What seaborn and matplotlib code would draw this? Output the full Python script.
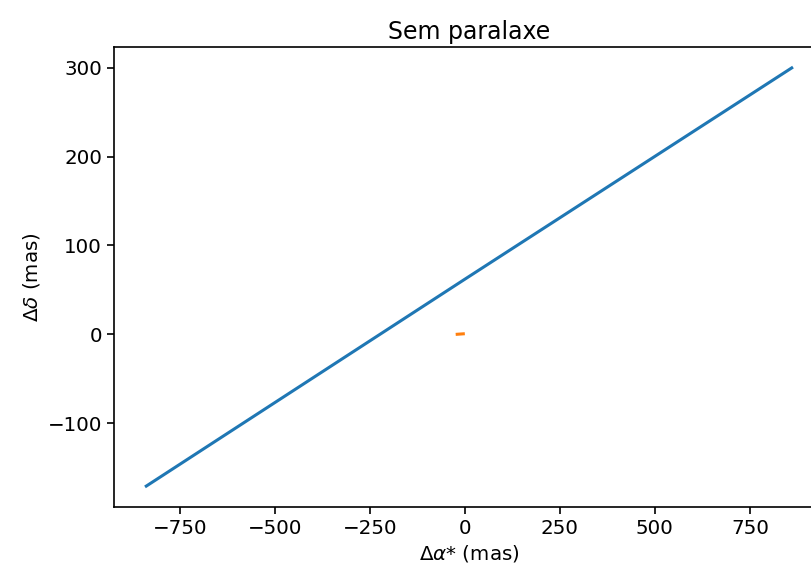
import numpy as np
import pandas as pd
import seaborn as sns
import matplotlib
matplotlib.use("Agg")
import matplotlib.pyplot as plt

# trajectory without parallax (mas)
dra_track = [-838, 0, 860]
ddec_track = [-171, 62, 300]

# small offset segment near origin
dra_par = [-20, -4]
ddec_par = [0, 0.5]

plt.rcParams["font.size"] = 14.3

fig = plt.figure(figsize=(8.11, 5.69), dpi=100)
ax = fig.add_axes([114 / 811, 62 / 569, 710 / 811, 460 / 569])

track = pd.DataFrame({"ra": dra_track, "dec": ddec_track})
par = pd.DataFrame({"ra": dra_par, "dec": ddec_par})

sns.lineplot(data=track, x="ra", y="dec", sort=False, color="C0", lw=2.2, ax=ax)
sns.lineplot(data=par, x="ra", y="dec", sort=False, color="C1", lw=2.2, ax=ax)

ax.set_xticks([-750, -500, -250, 0, 250, 500, 750])
ax.set_yticks([-100, 0, 100, 200, 300])
ax.tick_params(width=1.2, length=5)
for s in ax.spines.values():
    s.set_linewidth(1.2)

ax.set_xlabel(r"$\Delta\alpha$* (mas)")
ax.set_ylabel(r"$\Delta\delta$ (mas)")
ax.set_title("Sem paralaxe", fontsize=17)

fig.savefig("out.png", dpi=100)
